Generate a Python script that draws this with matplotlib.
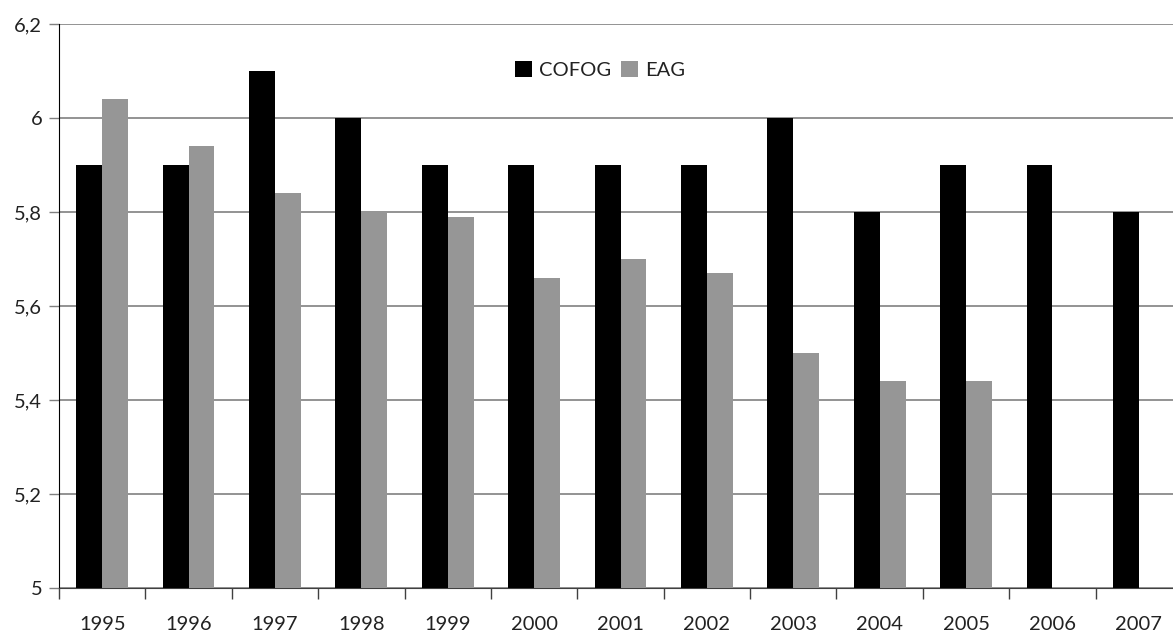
import numpy as np
import matplotlib.pyplot as plt
from matplotlib.ticker import FixedLocator, FuncFormatter

years = ['1995', '1996', '1997', '1998', '1999', '2000', '2001',
         '2002', '2003', '2004', '2005', '2006', '2007']
cofog = [5.9, 5.9, 6.1, 6.0, 5.9, 5.9, 5.9, 5.9, 6.0, 5.8, 5.9, 5.9, 5.8]
eag = [6.04, 5.94, 5.84, 5.80, 5.79, 5.66, 5.70, 5.67, 5.50, 5.44, 5.44, np.nan, np.nan]

plt.rcParams['font.family'] = ['Lato', 'DejaVu Sans']
plt.rcParams['text.color'] = '#222222'

W, H = 1173, 636
fig = plt.figure(figsize=(W / 100, H / 100), dpi=100)
# plot area runs a little past the right edge of the figure
ax = fig.add_axes([59 / W, 48 / H, 1123 / W, 564 / H])

x = np.arange(len(years))
bw = 0.30
ax.bar(x - bw / 2, cofog, width=bw, color='black', label='COFOG', zorder=3)
ax.bar(x + bw / 2, eag, width=bw, color='#969696', label='EAG', zorder=3)

ax.set_ylim(5, 6.2)
ax.set_xlim(-0.5, len(years) - 0.5)
ax.set_yticks(np.arange(5, 6.21, 0.2))
ax.yaxis.set_major_formatter(FuncFormatter(lambda v, p: ('%g' % round(v, 1)).replace('.', ',')))
ax.yaxis.grid(True, color='#808080', linewidth=1.2, zorder=0)

ax.set_xticks(x)
ax.set_xticklabels(years)
ax.xaxis.set_minor_locator(FixedLocator(np.arange(-0.5, len(years), 1)))
ax.tick_params(axis='x', which='major', length=0, pad=20, labelsize=14.5, labelcolor='#222222')
ax.tick_params(axis='x', which='minor', length=8, width=1, color='#404040')
ax.tick_params(axis='y', length=7, width=1, color='#808080', labelsize=14.5, pad=5,
               labelcolor='#222222')

for s in ['top', 'right']:
    ax.spines[s].set_visible(False)
ax.spines['left'].set_color('black')
ax.spines['bottom'].set_color('#404040')

ax.legend(loc='center', bbox_to_anchor=(541 / 1123, (588 - 70) / 564), ncol=2,
          frameon=False, fontsize=14.5, handlelength=0.85, handleheight=0.85,
          handletextpad=0.35, columnspacing=0.5)

fig.savefig('out.png', dpi=100)
